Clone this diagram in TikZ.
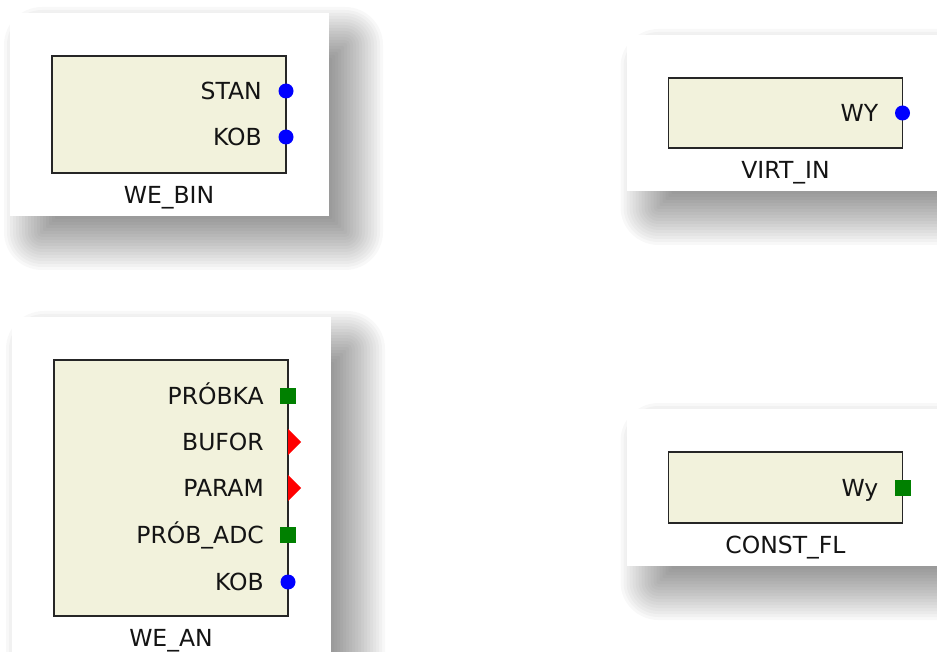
\documentclass[tikz,border=0pt]{standalone}
\usepackage{fontspec}
\setmainfont{DejaVu Sans}
\usepackage{xcolor}
\usepackage{tikz}
\usetikzlibrary{
	calc,
	backgrounds,
	positioning
}
\definecolor{BoxFill}{RGB}{242,242,220}
\definecolor{PortBlue}{RGB}{0,0,255}
\definecolor{PortGreen}{RGB}{0,128,0}
\definecolor{PortRed}{RGB}{255,0,0}
\definecolor{TextBlack}{RGB}{20,20,20}

\begin{document}
\begin{tikzpicture}[x=1pt, y=-1pt,
		blok/.style={draw=black!85, line width=1.7pt, fill=BoxFill, minimum width=234pt, inner sep=0pt, outer sep=0pt},
		opis/.style={font=\fontsize{23.5}{28}\selectfont, text=TextBlack, inner sep=0pt, text height=17pt, text depth=0pt},
		panel/.style={fill=white}]
			\useasboundingbox (0,0) rectangle (937,652);
			% lewy górny: WE_BIN
			\node[blok, minimum height=117pt] (webin) at (169,114.5) {};
			\node[opis, below=13pt of webin] (webin-name) {WE\_BIN};
			\coordinate (webin-stan) at ($(webin.north east)+(0,35)$);
			\coordinate (webin-kob) at ($(webin.north east)+(0,81)$);
			\fill[PortBlue] (webin-stan) circle (7.5);
			\fill[PortBlue] (webin-kob) circle (7.5);
			\node[opis, anchor=east] (webin-stan-l) at ($(webin-stan)+(-24,0)$) {STAN};
			\node[opis, anchor=east] (webin-kob-l) at ($(webin-kob)+(-24,0)$) {KOB};
			% prawy górny: VIRT_IN
			\node[blok, minimum height=70pt] (virtin) at (785.5,113) {};
			\node[opis, below=13pt of virtin] (virtin-name) {VIRT\_IN};
			\coordinate (virtin-wy) at ($(virtin.north east)+(0,35)$);
			\fill[PortBlue] (virtin-wy) circle (7.5);
			\node[opis, anchor=east] (virtin-wy-l) at ($(virtin-wy)+(-24,0)$) {WY};
			% lewy dolny: WE_AN
			\node[blok, minimum height=256pt] (wean) at (171,488) {};
			\node[opis, below=13pt of wean] (wean-name) {WE\_AN};
			\coordinate (wean-probka) at ($(wean.north east)+(0,36)$);
			\coordinate (wean-bufor) at ($(wean.north east)+(0,82)$);
			\coordinate (wean-param) at ($(wean.north east)+(0,128)$);
			\coordinate (wean-adc) at ($(wean.north east)+(0,175)$);
			\coordinate (wean-kob) at ($(wean.north east)+(0,222)$);
			\fill[PortGreen] ($(wean-probka)+(-8,-8)$) rectangle ++(16,16);
			\fill[PortRed] (wean-bufor) ++(0,-13) -- ++(13,13) -- ++(-13,13) -- cycle;
			\fill[PortRed] (wean-param) ++(0,-13) -- ++(13,13) -- ++(-13,13) -- cycle;
			\fill[PortGreen] ($(wean-adc)+(-8,-8)$) rectangle ++(16,16);
			\fill[PortBlue] (wean-kob) circle (7.5);
			\node[opis, anchor=east] (wean-probka-l) at ($(wean-probka)+(-24,0)$) {PRÓBKA};
			\node[opis, anchor=east] (wean-bufor-l) at ($(wean-bufor)+(-24,0)$) {BUFOR};
			\node[opis, anchor=east] (wean-param-l) at ($(wean-param)+(-24,0)$) {PARAM};
			\node[opis, anchor=east] (wean-adc-l) at ($(wean-adc)+(-24,0)$) {PRÓB\_ADC};
			\node[opis, anchor=east] (wean-kob-l) at ($(wean-kob)+(-24,0)$) {KOB};
			% prawy dolny: CONST_FL
			\node[blok, minimum height=71pt] (constfl) at (785.5,487.5) {};
			\node[opis, below=13pt of constfl] (constfl-name) {CONST\_FL};
			\coordinate (constfl-wy) at ($(constfl.north east)+(0,36)$);
			\fill[PortGreen] ($(constfl-wy)+(-8,-8)$) rectangle ++(16,16);
			\node[opis, anchor=east] (constfl-wy-l) at ($(constfl-wy)+(-24,0)$) {Wy};
			% tła z miękkim cieniem
			\begin{scope}[on background layer]
				\foreach \b in {webin,virtin,wean,constfl} {
					\foreach \e in {-30,-27,...,30} {
						\pgfmathsetmacro\rr{max(1,\e+8)}
						\fill[black, opacity=0.029, rounded corners=\rr pt]
							($(\b.north west)+({-18-(\e)},{-19-(\e)})$) rectangle ($(\b.south east)+({67+\e},{67+\e})$);
					}
					\path[panel] ($(\b.north west)+(-42,-43)$) rectangle ($(\b.south east)+(43,43)$);
				}
			\end{scope}
		\end{tikzpicture}
\end{document}
